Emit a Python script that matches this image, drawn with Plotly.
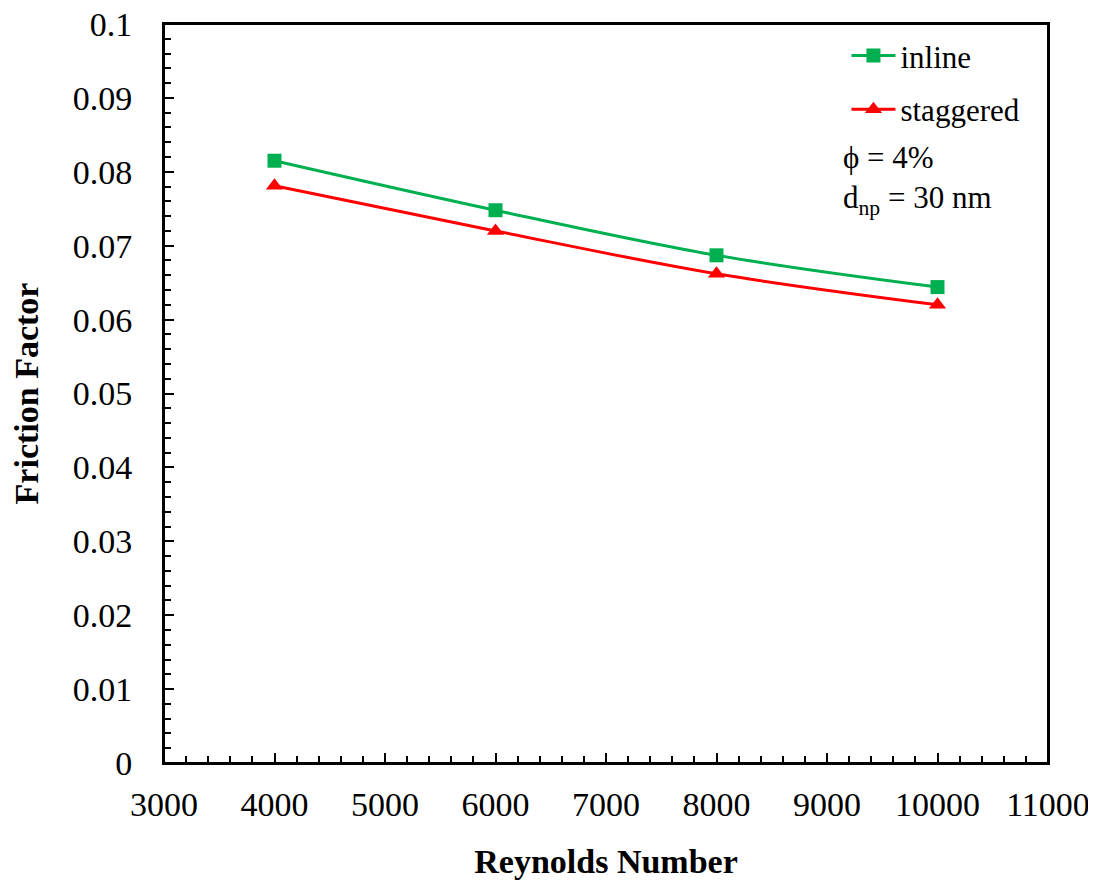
import plotly.graph_objects as go

# donnees
reynolds = [4000, 6000, 8000, 10000]
f_inline = [0.0815, 0.0748, 0.0687, 0.0644]
f_staggered = [0.0781, 0.0720, 0.0662, 0.0620]

police = "Liberation Serif, Times New Roman, serif"

fig = go.Figure()

fig.add_trace(go.Scatter(
    x=reynolds, y=f_inline, name="inline",
    mode="lines+markers", line=dict(color="#00b050", width=3, shape="spline"),
    marker=dict(symbol="square", size=14, color="#00b050"),
    legend="legend", showlegend=True,
))
fig.add_trace(go.Scatter(
    x=reynolds, y=f_staggered, name="staggered",
    mode="lines+markers", line=dict(color="#ff0000", width=3, shape="spline"),
    marker=dict(symbol="triangle-up", size=15, color="#ff0000"),
    legend="legend2", showlegend=True,
))

axe = dict(
    showline=True, linecolor="black", linewidth=2, mirror=True,
    showgrid=False, zeroline=False, automargin=False,
    ticks="inside", ticklen=10, tickwidth=2, tickcolor="black",
    ticklabeloverflow="allow",
    tickfont=dict(family=police, size=34, color="black"),
)

# la page ajoute 8 px de marge autour du graphique
fig.update_layout(
    width=1096, height=883,
    paper_bgcolor="white", plot_bgcolor="white",
    margin=dict(l=156, r=56, t=16, b=128),
    font=dict(family=police, color="black"),
    showlegend=True,
    xaxis=dict(
        axe, range=[3000, 11000], dtick=1000, tickformat="d", ticklabelstandoff=10,
        minor=dict(ticks="inside", dtick=200, ticklen=7, tickwidth=2, tickcolor="black"),
        title=dict(text="<b>Reynolds Number</b>", font=dict(family=police, size=34), standoff=27),
    ),
    yaxis=dict(
        axe, range=[0, 0.1], dtick=0.01, ticklabelstandoff=23,
        minor=dict(ticks="inside", dtick=0.002, ticklen=7, tickwidth=2, tickcolor="black"),
        title=dict(text="<b>Friction Factor</b>", font=dict(family=police, size=34), standoff=36),
    ),
    legend=dict(
        x=0.772, y=0.957, xanchor="left", yanchor="middle",
        bgcolor="rgba(0,0,0,0)", font=dict(family=police, size=31), itemwidth=44,
    ),
    legend2=dict(
        x=0.772, y=0.884, xanchor="left", yanchor="middle",
        bgcolor="rgba(0,0,0,0)", font=dict(family=police, size=31), itemwidth=44,
    ),
)

# cadre du graphique
fig.add_shape(
    type="rect", xref="paper", yref="paper", x0=0, x1=1, y0=0, y1=1,
    line=dict(color="black", width=2), layer="above",
)

fig.add_annotation(
    x=0.766, y=0.819, xref="paper", yref="paper", xanchor="left", yanchor="middle",
    text="ϕ = 4%", showarrow=False, font=dict(family=police, size=31),
)
fig.add_annotation(
    x=0.766, y=0.762, xref="paper", yref="paper", xanchor="left", yanchor="middle",
    text="d<sub>np</sub> = 30 nm", showarrow=False, font=dict(family=police, size=31),
)

fig.write_html("out.html")
